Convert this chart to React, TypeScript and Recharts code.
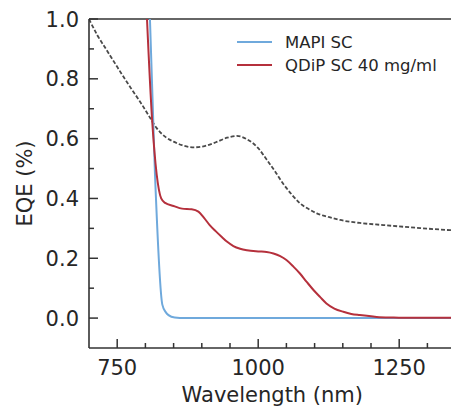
import { LineChart, Line, XAxis, YAxis, ReferenceLine, Legend } from 'recharts'

const xTicks = [750, 800, 850, 900, 950, 1000, 1050, 1100, 1150, 1200, 1250, 1300]
const xLabels = [750, 1000, 1250]
const yTicks = [0, 0.1, 0.2, 0.3, 0.4, 0.5, 0.6, 0.7, 0.8, 0.9, 1.0]
const yLabels = [0, 0.2, 0.4, 0.6, 0.8, 1.0]

const dashWl = [700, 715, 730, 745, 760, 775, 790, 805, 820, 836, 850, 865, 886, 905, 925, 945, 962, 980, 1000, 1015, 1030, 1044, 1060, 1074, 1090, 1104, 1125, 1145, 1180, 1222, 1280, 1340, 1350]
const dashEqe = [1.0, 0.945, 0.9, 0.855, 0.81, 0.767, 0.725, 0.68, 0.635, 0.605, 0.59, 0.578, 0.571, 0.575, 0.588, 0.603, 0.609, 0.598, 0.568, 0.53, 0.49, 0.45, 0.412, 0.384, 0.364, 0.35, 0.338, 0.328, 0.318, 0.311, 0.302, 0.294, 0.293]

const mapiWl = [806, 817, 830, 836, 841, 852, 870, 1000, 1200, 1350]
const mapiEqe = [1.12, 0.48, 0.045, 0.02, 0.01, 0.002, 0, 0, 0, 0]

const qdipWl = [800, 812, 828, 835, 850, 865, 882, 894, 904, 914, 925, 935, 945, 956, 968, 980, 1000, 1015, 1027, 1039, 1050, 1062, 1074, 1086, 1098, 1110, 1121, 1135, 1151, 1165, 1180, 1210, 1240, 1270, 1300, 1350]
const qdipEqe = [1.12, 0.66, 0.4, 0.385, 0.375, 0.366, 0.364, 0.356, 0.335, 0.311, 0.29, 0.272, 0.255, 0.241, 0.232, 0.227, 0.223, 0.221, 0.216, 0.207, 0.194, 0.173, 0.149, 0.121, 0.094, 0.07, 0.049, 0.032, 0.021, 0.014, 0.01, 0.004, 0.002, 0.001, 0.001, 0.001]

const toPts = (wl: number[], v: number[]) => wl.map((w, i) => ({ wl: w, eqe: v[i] }))
const dashData = toPts(dashWl, dashEqe)
const mapiData = toPts(mapiWl, mapiEqe)
const qdipData = toPts(qdipWl, qdipEqe)

const FONT = 'DejaVu Sans'
const INK = '#262626'
const AXIS = '#333'
const BLUE = '#6fa9dc'
const RED = '#b5303c'

const XTick = (p: any) => {
  const v = p.payload.value
  const ay = p.y - 4
  const major = xLabels.includes(v)
  return (
    <g>
      <line x1={p.x} x2={p.x} y1={ay} y2={ay - (major ? 9 : 5)} stroke={AXIS} strokeWidth={1.5} />
      {major && (
        <text x={p.x} y={ay + 27} textAnchor="middle" fontFamily={FONT} fontSize={21} fill={INK}>{v}</text>
      )}
    </g>
  )
}

const YTick = (p: any) => {
  const v = p.payload.value
  const ax = p.x + 4
  const major = yLabels.some(l => Math.abs(l - v) < 1e-6)
  return (
    <g>
      <line x1={ax} x2={ax + (major ? 9 : 5)} y1={p.y} y2={p.y} stroke={AXIS} strokeWidth={1.5} />
      {major && (
        <text x={ax - 10} y={p.y + 7.5} textAnchor="end" fontFamily={FONT} fontSize={21} fill={INK}>{v.toFixed(1)}</text>
      )}
    </g>
  )
}

const LegendBox = () => (
  <svg width={200} height={60} style={{ display: 'block' }}>
    <line x1={0} x2={35} y1={11} y2={11} stroke={BLUE} strokeWidth={2} />
    <text x={48} y={17} fontFamily={FONT} fontSize={16.5} fill={INK}>MAPI SC</text>
    <line x1={0} x2={35} y1={34} y2={34} stroke={RED} strokeWidth={2} />
    <text x={48} y={40} fontFamily={FONT} fontSize={16.5} fill={INK}>QDiP SC 40 mg/ml</text>
  </svg>
)

export default function App() {
  return (
    <div style={{ position: 'fixed', left: 0, top: 0, width: 451, height: 409, overflow: 'hidden', background: '#fff' }}>
      <LineChart width={460} height={409} margin={{ top: 19, right: 4.4, bottom: 0, left: 0 }}>
        <XAxis
          dataKey="wl"
          type="number"
          domain={[700, 1350]}
          allowDataOverflow
          ticks={xTicks}
          interval={0}
          tick={<XTick />}
          tickSize={0}
          tickMargin={4}
          height={61}
          stroke={AXIS}
          strokeWidth={1.6}
          label={{
            content: ({ viewBox }: any) => (
              <text x={viewBox.x + viewBox.width / 2} y={viewBox.y + 54} textAnchor="middle" fontFamily={FONT} fontSize={21} fill={INK}>
                Wavelength (nm)
              </text>
            ),
          }}
        />
        <YAxis
          dataKey="eqe"
          type="number"
          domain={[-0.1, 1.0]}
          allowDataOverflow
          ticks={yTicks}
          interval={0}
          tick={<YTick />}
          tickSize={0}
          tickMargin={4}
          width={89}
          stroke={AXIS}
          strokeWidth={1.6}
          label={{
            content: ({ viewBox }: any) => {
              const cx = viewBox.x + 25
              const cy = viewBox.y + viewBox.height / 2
              return (
                <text x={cx} y={cy} transform={`rotate(-90 ${cx} ${cy})`} textAnchor="middle" dominantBaseline="central" fontFamily={FONT} fontSize={21} fill={INK}>
                  EQE (%)
                </text>
              )
            },
          }}
        />
        <ReferenceLine y={1.0} stroke={AXIS} strokeWidth={1.6} />
        <Line data={dashData} dataKey="eqe" type="monotone" stroke="#4a4a4a" strokeWidth={1.8} strokeDasharray="4 2" dot={false} isAnimationActive={false} legendType="none" />
        <Line data={mapiData} dataKey="eqe" type="monotone" stroke={BLUE} strokeWidth={2} dot={false} isAnimationActive={false} />
        <Line data={qdipData} dataKey="eqe" type="monotone" stroke={RED} strokeWidth={2} dot={false} isAnimationActive={false} />
        <Legend
          layout="vertical"
          align="center"
          verticalAlign="middle"
          content={<LegendBox />}
          wrapperStyle={{ position: 'absolute', left: 237, top: 31, width: 200 }}
        />
      </LineChart>
    </div>
  )
}
